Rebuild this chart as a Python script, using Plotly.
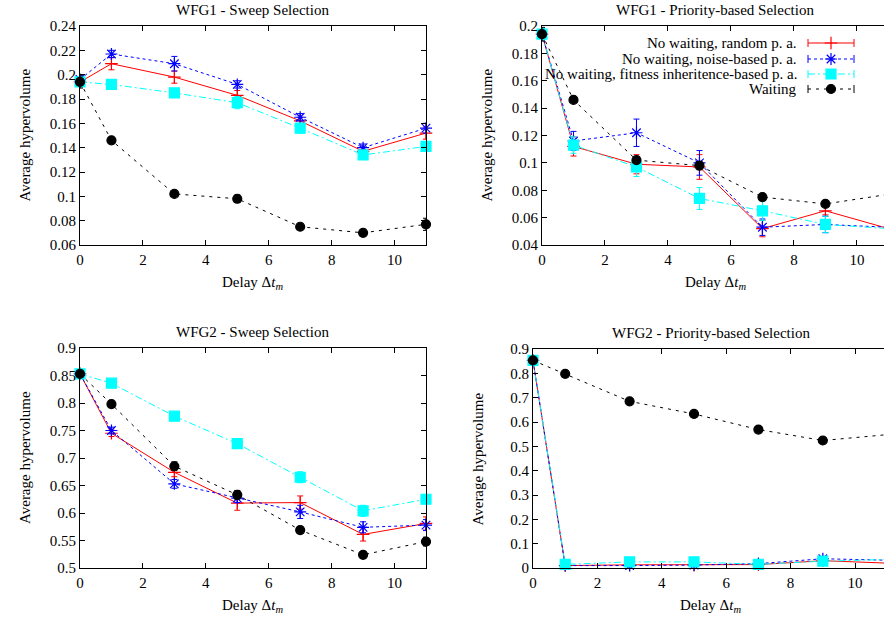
import plotly.graph_objects as go

W, H = 884, 621
OFF = 0

delays = [0, 1, 3, 5, 7, 9, 11]

series_names = ["No waiting, random p. a.", "No waiting, noise-based p. a.",
                "No waiting, fitness inheritence-based p. a.", "Waiting"]

# WFG1 - Sweep Selection
wfg1_sweep_random = [0.194, 0.209, 0.198, 0.183, 0.162, 0.137, 0.152]
wfg1_sweep_random_err = [0.004, 0.005, 0.005, 0.004, 0.003, 0.003, 0.005]
wfg1_sweep_noise = [0.196, 0.217, 0.209, 0.192, 0.165, 0.140, 0.156]
wfg1_sweep_noise_err = [0.003, 0.003, 0.006, 0.003, 0.003, 0.003, 0.004]
wfg1_sweep_fitness = [0.194, 0.192, 0.185, 0.177, 0.156, 0.134, 0.141]
wfg1_sweep_fitness_err = [0.003, 0.003, 0.003, 0.005, 0.004, 0.003, 0.003]
wfg1_waiting = [0.194, 0.146, 0.102, 0.098, 0.075, 0.070, 0.077]
wfg1_waiting_err = [0.005, 0.002, 0.002, 0.003, 0.002, 0.002, 0.005]

# WFG1 - Priority-based Selection
wfg1_prio_random = [0.194, 0.112, 0.099, 0.097, 0.052, 0.065, 0.052]
wfg1_prio_random_err = [0.004, 0.007, 0.007, 0.009, 0.006, 0.003, 0.006]
wfg1_prio_noise = [0.194, 0.116, 0.122, 0.100, 0.053, 0.055, 0.053]
wfg1_prio_noise_err = [0.004, 0.007, 0.010, 0.009, 0.006, 0.006, 0.007]
wfg1_prio_fitness = [0.194, 0.113, 0.097, 0.074, 0.065, 0.055, 0.052]
wfg1_prio_fitness_err = [0.004, 0.006, 0.007, 0.008, 0.007, 0.006, 0.005]

# WFG2 - Sweep Selection
wfg2_sweep_random = [0.853, 0.745, 0.674, 0.618, 0.619, 0.561, 0.581]
wfg2_sweep_random_err = [0.004, 0.006, 0.008, 0.013, 0.012, 0.012, 0.012]
wfg2_sweep_noise = [0.853, 0.750, 0.653, 0.627, 0.602, 0.574, 0.578]
wfg2_sweep_noise_err = [0.004, 0.006, 0.008, 0.008, 0.012, 0.010, 0.010]
wfg2_sweep_fitness = [0.853, 0.836, 0.776, 0.726, 0.665, 0.604, 0.625]
wfg2_sweep_fitness_err = [0.004, 0.005, 0.006, 0.005, 0.010, 0.010, 0.008]
wfg2_waiting = [0.853, 0.798, 0.685, 0.633, 0.569, 0.524, 0.548]
wfg2_waiting_err = [0.004, 0.005, 0.008, 0.008, 0.006, 0.006, 0.008]

# WFG2 - Priority-based Selection
wfg2_prio_random = [0.853, 0.010, 0.013, 0.012, 0.014, 0.030, 0.020]
wfg2_prio_random_err = [0.004, 0.003, 0.003, 0.003, 0.003, 0.004, 0.004]
wfg2_prio_noise = [0.853, 0.010, 0.010, 0.012, 0.018, 0.038, 0.032]
wfg2_prio_noise_err = [0.004, 0.004, 0.005, 0.005, 0.005, 0.006, 0.005]
wfg2_prio_fitness = [0.853, 0.015, 0.025, 0.025, 0.015, 0.028, 0.035]
wfg2_prio_fitness_err = [0.004, 0.003, 0.003, 0.003, 0.003, 0.003, 0.003]

panel_titles = ["WFG1 - Sweep Selection", "WFG1 - Priority-based Selection",
                "WFG2 - Sweep Selection", "WFG2 - Priority-based Selection"]
y_ranges = [[0.06, 0.24], [0.04, 0.2], [0.5, 0.9], [0, 0.9]]
y_dticks = [0.02, 0.02, 0.05, 0.1]
x_ranges = [[0, 11], [0, 10.86], [0, 11], [0, 10.9]]

panels = [
    [(wfg1_sweep_random, wfg1_sweep_random_err), (wfg1_sweep_noise, wfg1_sweep_noise_err),
     (wfg1_sweep_fitness, wfg1_sweep_fitness_err), (wfg1_waiting, wfg1_waiting_err)],
    [(wfg1_prio_random, wfg1_prio_random_err), (wfg1_prio_noise, wfg1_prio_noise_err),
     (wfg1_prio_fitness, wfg1_prio_fitness_err), (wfg1_waiting, wfg1_waiting_err)],
    [(wfg2_sweep_random, wfg2_sweep_random_err), (wfg2_sweep_noise, wfg2_sweep_noise_err),
     (wfg2_sweep_fitness, wfg2_sweep_fitness_err), (wfg2_waiting, wfg2_waiting_err)],
    [(wfg2_prio_random, wfg2_prio_random_err), (wfg2_prio_noise, wfg2_prio_noise_err),
     (wfg2_prio_fitness, wfg2_prio_fitness_err), (wfg2_waiting, wfg2_waiting_err)],
]

styles = [
    dict(color="#ff0000", dash="solid", symbol="cross-thin-open", size=9),
    dict(color="#0000ff", dash="3px,3px", symbol="asterisk-open", size=10),
    dict(color="#00ffff", dash="7px,3px,2px,3px", symbol="square", size=10),
    dict(color="#000000", dash="3px,5px", symbol="circle", size=9),
]

FONT = "'Liberation Serif', 'Times New Roman', 'DejaVu Serif', serif"
FS = 15


def px(x):
    return (x - OFF) / W


def py(y):
    return (H - (y - OFF)) / H


# screen-pixel layout of the four plot areas: (left, right, top, bottom)
boxes = [(80, 426, 26, 245), (542, 884, 26, 245), (80, 426, 348, 568), (533, 884, 349, 568)]

fig = go.Figure()

for p, data in enumerate(panels):
    ax = "" if p == 0 else str(p + 1)
    for s, (vals, errs) in enumerate(data):
        st = styles[s]
        fig.add_trace(go.Scatter(
            x=delays, y=vals, mode="lines+markers",
            xaxis="x" + ax, yaxis="y" + ax,
            line=dict(color=st["color"], width=1, dash=st["dash"]),
            marker=dict(symbol=st["symbol"], size=st["size"], color=st["color"],
                        line=dict(color=st["color"], width=1.2)),
            error_y=dict(type="data", array=errs, visible=True, color=st["color"],
                         thickness=1, width=3),
            showlegend=False, cliponaxis=False, name=series_names[s],
        ))

layout = dict(
    width=W, height=H, margin=dict(l=0, r=0, t=0, b=0, pad=0, autoexpand=False),
    paper_bgcolor="white", plot_bgcolor="rgba(0,0,0,0)", showlegend=False,
    font=dict(family=FONT, size=FS, color="black"),
)

annotations = []
for p in range(4):
    l, r, t, b = boxes[p]
    sfx = "" if p == 0 else str(p + 1)
    right_panel = p in (1, 3)
    layout["xaxis" + sfx] = dict(
        domain=[px(l), px(r)], range=x_ranges[p], dtick=2, tick0=0,
        anchor="y" + sfx, showgrid=False, zeroline=False, automargin=False,
        showline=True, linecolor="black", linewidth=1, mirror="ticks",
        ticks="inside", ticklen=5, tickcolor="black", ticklabelstandoff=1,
        tickfont=dict(family=FONT, size=FS, color="black"),
    )
    layout["yaxis" + sfx] = dict(
        domain=[py(b), py(t)], range=y_ranges[p], dtick=y_dticks[p],
        tick0=0, anchor="x" + sfx, showgrid=False, zeroline=False, automargin=False,
        showline=True, linecolor="black", linewidth=1,
        mirror=False if right_panel else "ticks",
        ticks="inside", ticklen=5, tickcolor="black",
        tickfont=dict(family=FONT, size=FS, color="black"),
    )
    cx = (l + (888 if right_panel else r)) / 2
    annotations.append(dict(text=panel_titles[p], x=px(cx), y=py(t - 16),
                            xref="paper", yref="paper", showarrow=False,
                            xanchor="center", yanchor="middle",
                            font=dict(family=FONT, size=FS, color="black")))
    annotations.append(dict(text="Delay Δ<i>t</i><sub><i>m</i></sub>",
                            x=px(cx), y=py(b + 38),
                            xref="paper", yref="paper", showarrow=False,
                            xanchor="center", yanchor="middle",
                            font=dict(family=FONT, size=FS, color="black")))
    annotations.append(dict(text="Average hypervolume", x=px(l - 55),
                            y=py((t + b) / 2), textangle=-90,
                            xref="paper", yref="paper", showarrow=False,
                            xanchor="center", yanchor="middle",
                            font=dict(family=FONT, size=FS, color="black")))

# legend (gnuplot style: text right-aligned, sample on the right) in top-right panel
leg_y = [43, 59, 74, 89]
leg_text_x = 799
leg_x0, leg_x1 = 808, 854
layout["xaxis5"] = dict(domain=[0, 1], range=[OFF, W + OFF], visible=False, anchor="y5",
                        automargin=False)
layout["yaxis5"] = dict(domain=[0, 1], range=[H + OFF, OFF], visible=False, anchor="x5",
                        automargin=False)
for s in range(4):
    st = styles[s]
    annotations.append(dict(text=series_names[s], x=px(leg_text_x), y=py(leg_y[s]),
                            xref="paper", yref="paper", showarrow=False,
                            xanchor="right", yanchor="middle",
                            font=dict(family=FONT, size=FS, color="black")))
    fig.add_trace(go.Scatter(
        x=[leg_x0, leg_x1], y=[leg_y[s], leg_y[s]], mode="lines",
        xaxis="x5", yaxis="y5",
        line=dict(color=st["color"], width=1, dash=st["dash"]),
        error_y=dict(type="data", array=[4, 4], visible=True, color=st["color"],
                     thickness=1, width=0),
        showlegend=False, hoverinfo="skip"))
    fig.add_trace(go.Scatter(
        x=[(leg_x0 + leg_x1) / 2], y=[leg_y[s]], mode="markers",
        xaxis="x5", yaxis="y5",
        marker=dict(symbol=st["symbol"], size=st["size"], color=st["color"],
                    line=dict(color=st["color"], width=1.2)),
        showlegend=False, hoverinfo="skip"))

layout["annotations"] = annotations
fig.update_layout(**layout)
fig.write_html("out.html", config={"displayModeBar": False, "staticPlot": True},
               post_script="document.body.style.margin='0';document.body.style.overflow='hidden';")
